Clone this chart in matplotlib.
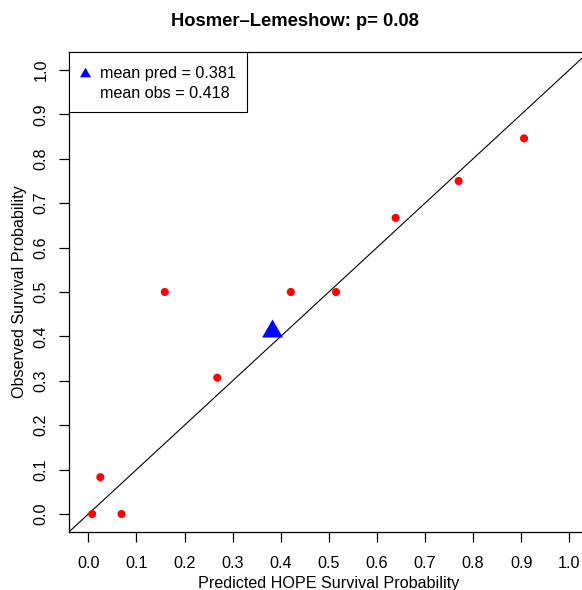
import matplotlib
matplotlib.use('Agg')
import matplotlib.pyplot as plt
from matplotlib.patches import Rectangle

plt.rcParams['font.family'] = ['Liberation Sans', 'DejaVu Sans']

# group-wise calibration data
pred = [0.008, 0.025, 0.069, 0.159, 0.268, 0.421, 0.515, 0.639, 0.770, 0.906]
obs = [0.000, 0.083, 0.000, 0.500, 0.307, 0.500, 0.500, 0.667, 0.750, 0.846]
mean_pred = 0.381
mean_obs = 0.418
hl_p = 0.08
ticks = [0.0, 0.1, 0.2, 0.3, 0.4, 0.5, 0.6, 0.7, 0.8, 0.9, 1.0]
tick_labels = ['%.1f' % t for t in ticks]

W, H = 582, 590
fig = plt.figure(figsize=(W / 100, H / 100), dpi=100)

# plot box in pixels (right edge runs past the image like the original)
left, right, top, bottom = 69.1, 588.5, 52.2, 531.8
ax = fig.add_axes([left / W, 1 - bottom / H, (right - left) / W, (bottom - top) / H])

ax.plot([-0.04, 1.04], [-0.04, 1.04], color='black', lw=0.8)
ax.scatter(pred, obs, s=34, color='red', edgecolors='none', zorder=3)
tri = [(-1, -0.866), (1, -0.866), (0, 0.866)]
ax.plot([mean_pred], [mean_obs], linestyle='none', marker=tri, markersize=15,
        color='blue', markeredgewidth=0, zorder=4)

ax.set_xlim(-0.04, 1.04)
ax.set_ylim(-0.04, 1.04)
ax.set_xticks(ticks)
ax.set_xticklabels(tick_labels)
ax.set_yticks(ticks)
ax.set_yticklabels(tick_labels, rotation=90, va='center')
ax.tick_params(length=7.5, width=0.9, labelsize=11.6)
ax.tick_params(axis='x', pad=10)
ax.tick_params(axis='y', pad=7.5)
for sp in ax.spines.values():
    sp.set_linewidth(0.9)

# legend box
ax.add_patch(Rectangle((0, 0.8753), 0.3425, 0.1247, transform=ax.transAxes,
                       fill=True, facecolor='white', edgecolor='black', lw=0.8, zorder=5))
ax.plot([0.030], [0.958], transform=ax.transAxes, linestyle='none', marker=tri,
        markersize=8, color='blue', markeredgewidth=0, zorder=6)
ax.text(0.0595, 0.956, 'mean pred = %.3f' % mean_pred, transform=ax.transAxes,
        fontsize=11.6, va='center', ha='left', zorder=6)
ax.text(0.0595, 0.914, 'mean obs = %.3f' % mean_obs, transform=ax.transAxes,
        fontsize=11.6, va='center', ha='left', zorder=6)

fig.text(294.6 / W, 1 - 21 / H, 'Hosmer\u2013Lemeshow: p= %.2f' % hl_p,
         fontsize=13.2, fontweight='bold', ha='center', va='center')
fig.text(20 / W, 1 - 292 / H, 'Observed Survival Probability', rotation=90,
         fontsize=11.6, ha='center', va='center')
fig.text(329 / W, 2 / H, 'Predicted HOPE Survival Probability',
         fontsize=11.6, ha='center', va='baseline')

fig.savefig('out.png', dpi=100)
